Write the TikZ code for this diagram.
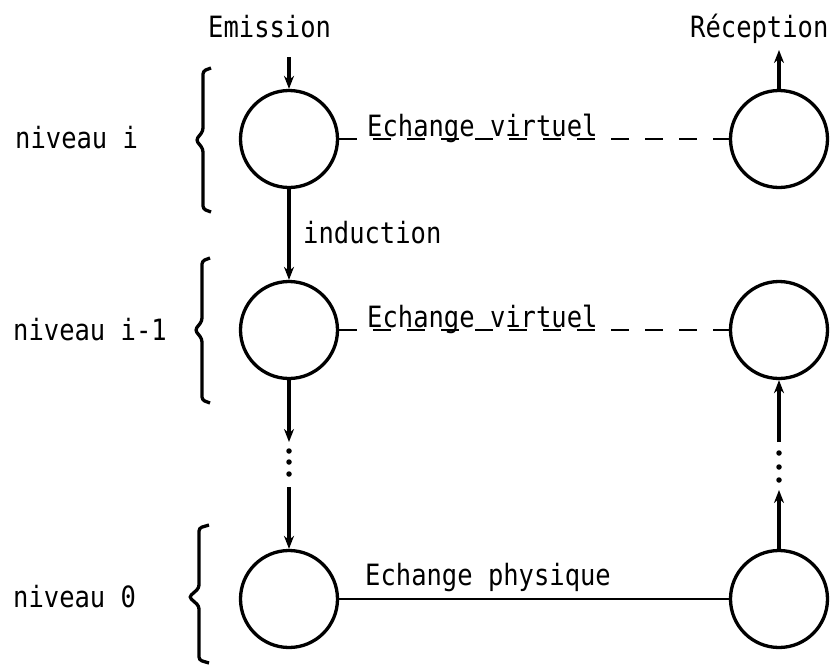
\documentclass[tikz,border=0pt]{standalone}
\usepackage{fontspec}
\setmonofont{DejaVu Sans Mono}
\usetikzlibrary{arrows.meta}
\newcommand{\tw}[1]{\scalebox{1}[1.15]{\ttfamily #1}}
\tikzset{
  lvl/.style={circle,draw,line width=3.3pt,minimum size=97pt,inner sep=0pt},
  lbl/.style={anchor=base west,inner sep=0pt,font=\fontsize{25.5}{28}\selectfont},
  arr/.style={line width=3.3pt,-{Stealth[length=13pt,width=10pt]}},
  virt/.style={line width=2.8pt,dash pattern=on 18pt off 16pt},
  phys/.style={line width=2.8pt},
  brc/.style={line width=3.3pt,rounded corners=3pt},
  dotm/.style={circle,fill,inner sep=0pt,minimum size=5.5pt}
}
\begin{document}
\begin{tikzpicture}[x=1pt,y=-1pt]
\useasboundingbox (0,0) rectangle (833,667);
% circles
\node[lvl] (L1) at (289,139) {};
\node[lvl] (L2) at (289,330) {};
\node[lvl] (L3) at (289,599) {};
\node[lvl] (R1) at (779,139) {};
\node[lvl] (R2) at (779,330) {};
\node[lvl] (R3) at (779,599) {};
% top labels
\node[lbl] (em) at (208,37) {\tw{Emission}};
\node[lbl] (re) at (690,37) {\tw{Réception}};
\coordinate (emin) at (289,57);
\coordinate (reout) at (779,50);
\draw[arr] (emin) -- (L1.north);
\draw[arr] (R1.north) -- (reout);
% level labels
\node[lbl] (n1) at (15,148) {\tw{niveau i}};
\node[lbl] (n2) at (13,340) {\tw{niveau i-1}};
\node[lbl] (n3) at (13,607) {\tw{niveau 0}};
% braces
\draw[brc] (211,68) -- (203,71) -- (203,131) -- (196,140) -- (203,149) -- (203,209) -- (211,212);
\draw[brc] (210,258) -- (202,261) -- (202,321) -- (195,330) -- (202,339) -- (202,400) -- (210,403);
\draw[brc] (209,525) -- (199,528) -- (199,588) -- (189,597) -- (199,606) -- (199,660) -- (209,663);
% left column
\draw[arr] (L1.south) -- (L2.north);
\node[lbl] (ind) at (303,243) {\tw{induction}};
\coordinate (la) at (289,442);
\coordinate (lb) at (289,487);
\draw[arr] (L2.south) -- (la);
\node[dotm] (ld1) at (289,451) {};
\node[dotm] (ld2) at (289,462) {};
\node[dotm] (ld3) at (289,474) {};
\draw[arr] (lb) -- (L3.north);
% right column
\coordinate (ra) at (779,490);
\coordinate (rb) at (779,442);
\draw[arr] (R3.north) -- (ra);
\node[dotm] (rd1) at (779,453) {};
\node[dotm] (rd2) at (779,467) {};
\node[dotm] (rd3) at (779,480) {};
\draw[arr] (rb) -- (R2.south);
% exchanges
\draw[virt] (L1.east) -- (R1.west);
\node[lbl] (ev1) at (367,136) {\tw{Echange virtuel}};
\draw[virt] (L2.east) -- (R2.west);
\node[lbl] (ev2) at (367,327) {\tw{Echange virtuel}};
\draw[phys] (L3.east) -- (R3.west);
\node[lbl] (ep) at (365,585) {\tw{Echange physique}};
\end{tikzpicture}
\end{document}
